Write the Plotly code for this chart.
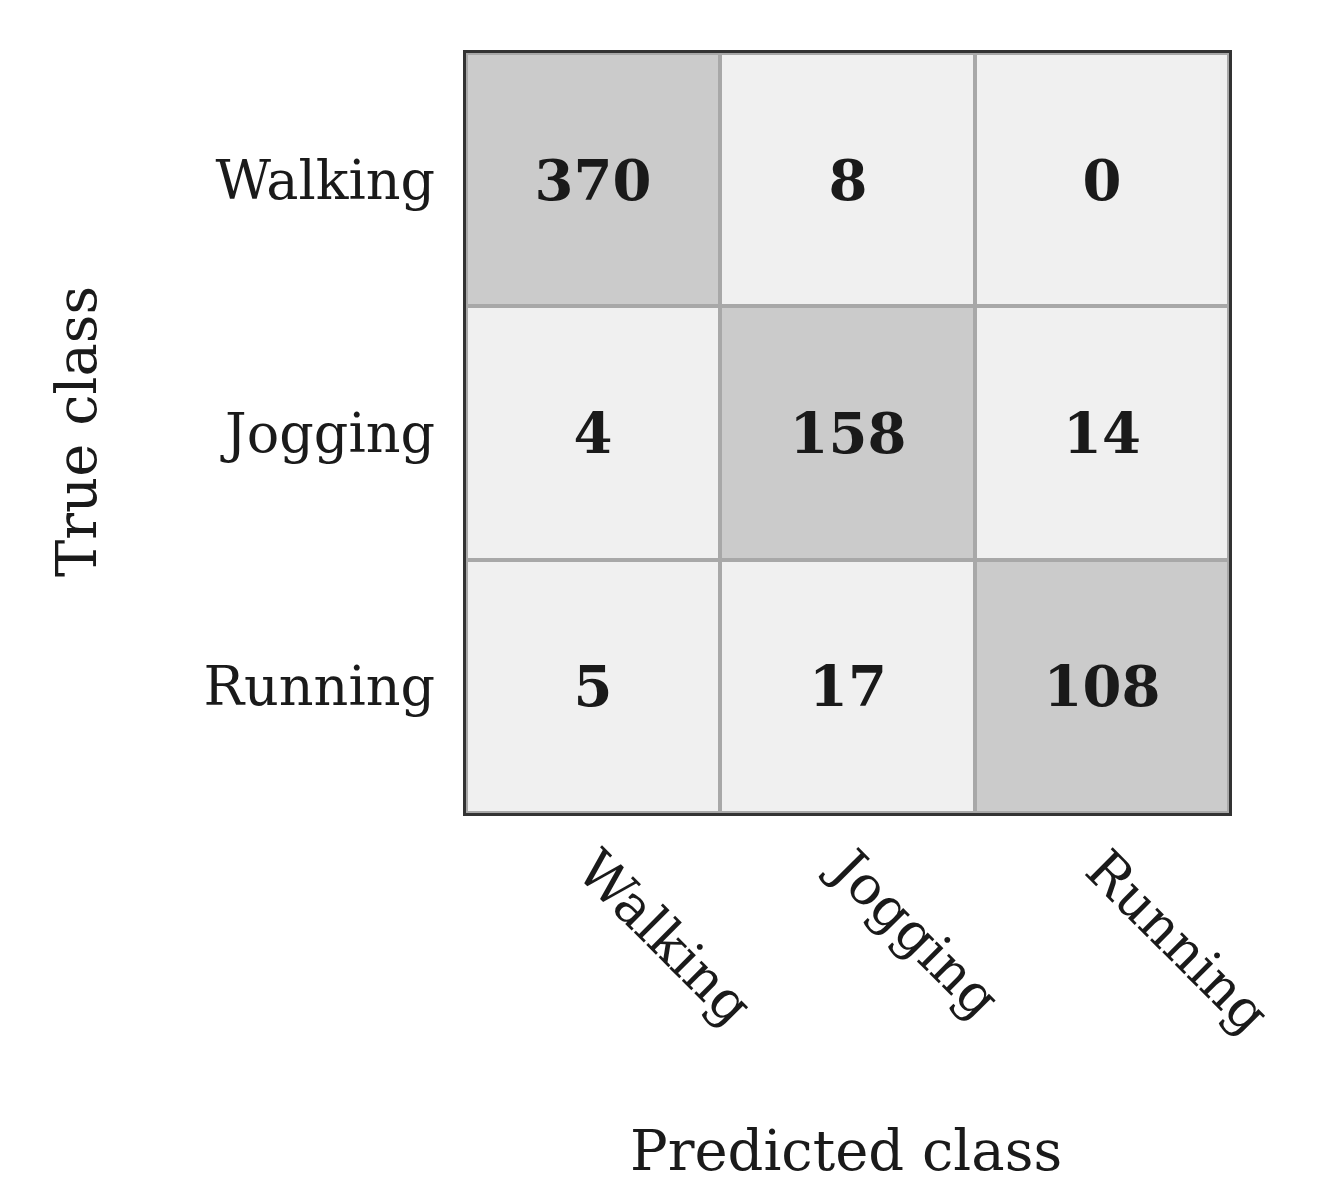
import plotly.graph_objects as go

classes = ["Walking", "Jogging", "Running"]
counts = [[370, 8, 0],
          [4, 158, 14],
          [5, 17, 108]]

shade = [[1 if i == j else 0 for j in range(3)] for i in range(3)]
font = "DejaVu Serif"

fig = go.Figure(go.Heatmap(
    z=shade, x=classes, y=classes, text=counts, texttemplate="<b>%{text}</b>",
    textfont=dict(family=font, size=56, color="#1a1a1a"),
    colorscale=[[0, "#f0f0f0"], [1, "#cbcbcb"]], zmin=0, zmax=1,
    showscale=False, xgap=4, ygap=4, hoverinfo="skip"))

fig.update_layout(
    width=1331, height=1202, paper_bgcolor="white", plot_bgcolor="#a8a8a8",
    margin=dict(l=458, r=110, t=45, b=397),
    font=dict(family=font, color="#1a1a1a"),
    xaxis=dict(tickangle=45, tickfont=dict(size=54), showline=True, mirror=True,
               linecolor="#333", linewidth=3, ticks="", showgrid=False),
    yaxis=dict(autorange="reversed", tickfont=dict(size=54), showline=True, mirror=True,
               linecolor="#333", linewidth=3, ticks="", showgrid=False, ticksuffix=" "),
    annotations=[
        dict(text="Predicted class", x=(845-465)/763, y=-(1150-813)/760, xref="paper", yref="paper",
             yanchor="middle", showarrow=False, font=dict(size=56)),
        dict(text="True class", textangle=-90, x=-(465-75)/763, y=(813-432)/760, xref="paper", yref="paper",
             xanchor="center", showarrow=False, font=dict(size=56)),
    ])
fig.write_html("out.html")
